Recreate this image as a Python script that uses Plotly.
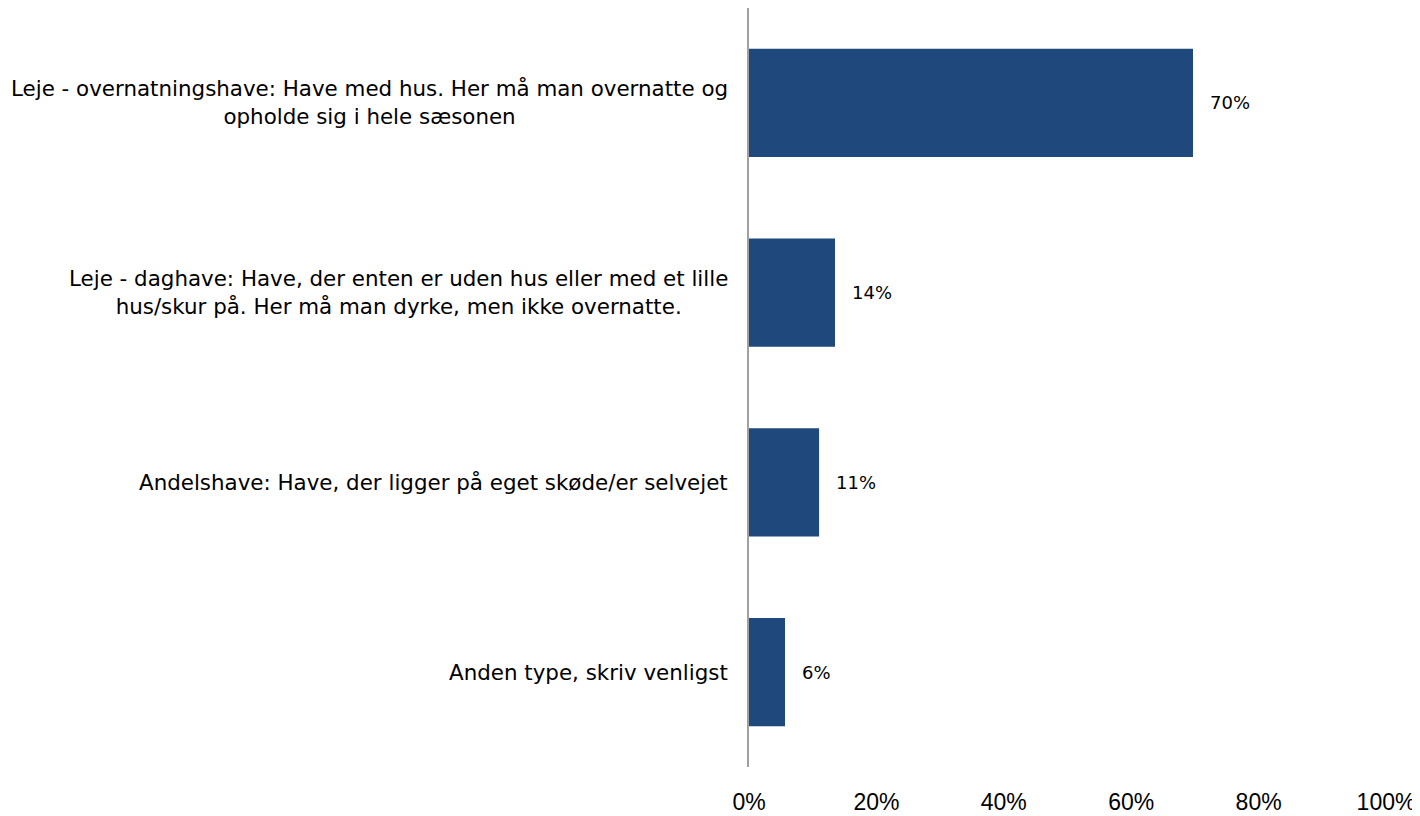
import plotly.graph_objects as go

categories = [
    "Leje - overnatningshave: Have med hus. Her må man overnatte og<br>opholde sig i hele sæsonen",
    "Leje - daghave: Have, der enten er uden hus eller med et lille<br>hus/skur på. Her må man dyrke, men ikke overnatte.",
    "Andelshave: Have, der ligger på eget skøde/er selvejet",
    "Anden type, skriv venligst",
]
values = [0.697, 0.135, 0.110, 0.0565]
value_labels = ["70%", "14%", "11%", "6%"]
tick_vals = [0, 0.2, 0.4, 0.6, 0.8, 1.0]
tick_text = ["0%", "20%", "40%", "60%", "80%", "100%"]

BAR = "#1f497d"
LABEL_FONT = "DejaVu Sans"

fig = go.Figure(go.Bar(
    x=values, y=categories, orientation="h",
    marker=dict(color=BAR, line=dict(width=0)),
    width=0.57, hoverinfo="skip",
))

annotations = []
for c, v, t in zip(categories, values, value_labels):
    annotations.append(dict(x=v, y=c, xref="x", yref="y", text=t, showarrow=False,
                            xanchor="left", xshift=15,
                            font=dict(family=LABEL_FONT, size=18, color="#000")))
    annotations.append(dict(x=0, y=c, xref="paper", yref="y", text=c, showarrow=False,
                            xanchor="right", xshift=-19, align="center",
                            font=dict(family=LABEL_FONT, size=21.4, color="#000")))

fig.update_layout(
    width=1412, height=808,
    margin=dict(l=741, r=34, t=0, b=49),
    paper_bgcolor="white", plot_bgcolor="white",
    showlegend=False,
    annotations=annotations,
    xaxis=dict(range=[0, 1], tickvals=tick_vals, ticktext=tick_text,
               showgrid=False, zeroline=False, showline=False,
               ticks="outside", ticklen=14, tickcolor="rgba(0,0,0,0)",
               tickfont=dict(family="Liberation Sans", size=23, color="#000")),
    yaxis=dict(autorange="reversed", showticklabels=False, showgrid=False,
               zeroline=False, showline=True, linecolor="#a0a0a0", linewidth=2,
               ticks=""),
)

fig.write_html("out.html")
